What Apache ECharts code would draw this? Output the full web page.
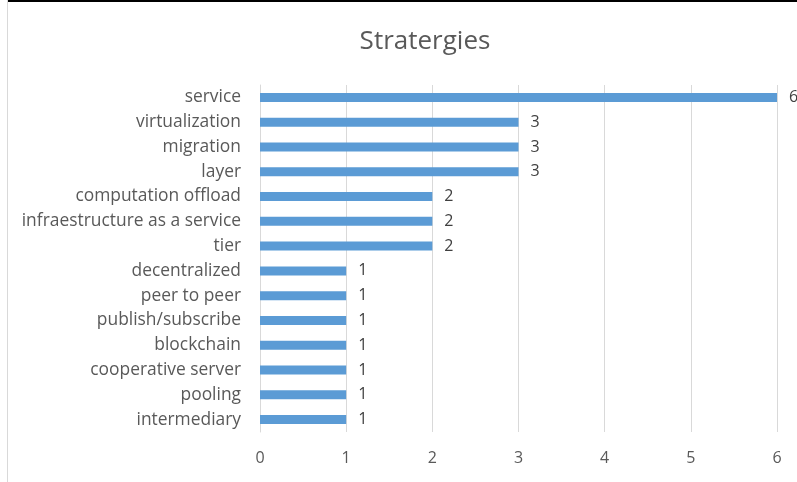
<!DOCTYPE html>
<html>
<head>
<meta charset="utf-8">
<script src="https://cdn.jsdelivr.net/npm/echarts@6/dist/echarts.min.js"></script>
<style>html,body{margin:0;padding:0;background:#fff}#c{width:797px;height:482px}</style>
</head>
<body>
<div id="c"></div>
<script>
const categories = ["service","virtualization","migration","layer","computation offload","infraestructure as a service","tier","decentralized","peer to peer","publish/subscribe","blockchain","cooperative server","pooling","intermediary"];
const values = [6,3,3,3,2,2,2,1,1,1,1,1,1,1];
const xTicks = [0,1,2,3,4,5,6];

const font = "'Open Sans', 'Liberation Sans', sans-serif";
const chart = echarts.init(document.getElementById('c'));
chart.setOption({
  animation: false,
  title: {
    text: 'Stratergies', left: 420, top: 24, textAlign: 'center',
    textStyle: {fontFamily: font, fontSize: 26, fontWeight: 'normal', color: '#595959'}
  },
  graphic: [
    {type: 'rect', shape: {x: 7, y: 0, width: 790, height: 2}, style: {fill: '#000'}},
    {type: 'rect', shape: {x: 7, y: 0, width: 1, height: 482}, style: {fill: '#d9d9d9'}}
  ],
  grid: {left: 260, right: 20, top: 85, height: 347, containLabel: false},
  xAxis: {
    type: 'value', min: xTicks[0], max: xTicks[xTicks.length-1], interval: 1,
    axisLine: {show: false}, axisTick: {show: false},
    splitLine: {lineStyle: {color: '#d9d9d9', width: 1}},
    axisLabel: {color: '#595959', fontFamily: font, fontSize: 16, margin: 18}
  },
  yAxis: {
    type: 'category', data: categories, inverse: true,
    axisLine: {show: true, lineStyle: {color: '#d9d9d9'}}, axisTick: {show: false},
    axisLabel: {color: '#595959', fontFamily: font, fontSize: 17.4, margin: 19}
  },
  series: [{
    type: 'bar', data: values, barWidth: 9,
    itemStyle: {color: '#5b9bd5'},
    label: {show: true, position: 'right', distance: 12, color: '#404040', fontFamily: font, fontSize: 16}
  }]
});
</script>
</body>
</html>
